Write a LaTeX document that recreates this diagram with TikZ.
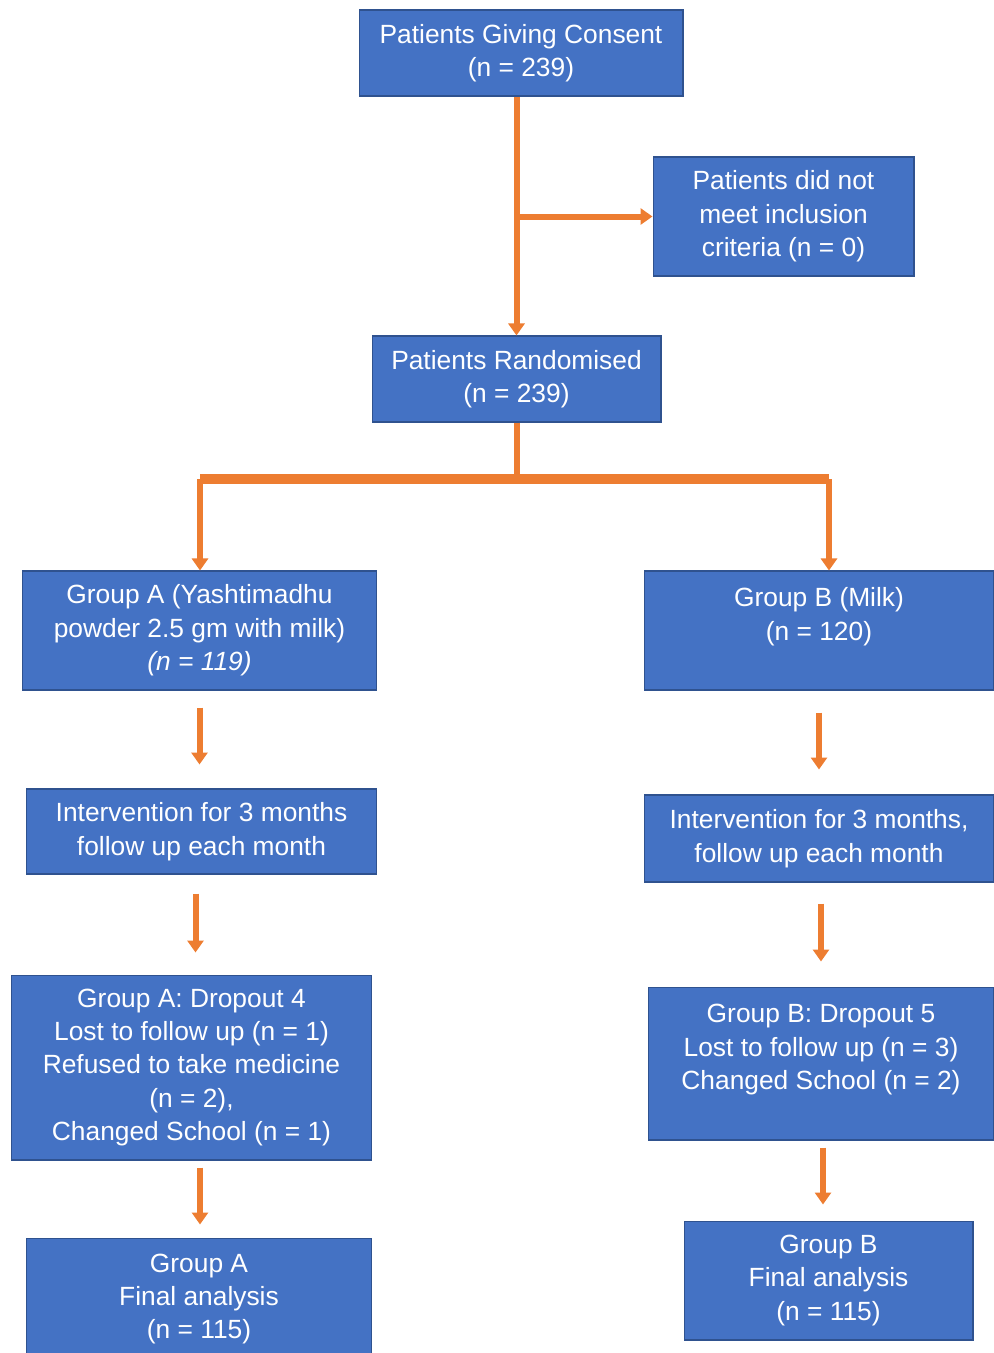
\documentclass[tikz,border=0pt]{standalone}
\usepackage{fontspec}
\setmainfont{Liberation Sans}
\usetikzlibrary{arrows.meta}
\definecolor{boxblue}{HTML}{4472C4}
\definecolor{boxedge}{HTML}{2F528F}
\definecolor{flowor}{HTML}{ED7D31}
\begin{document}
\begin{tikzpicture}[x=0.02cm, y=-0.02cm,
   stagebox/.style={draw=boxedge, line width=0.6pt, fill=boxblue, text=white,
      align=center, inner sep=2pt, font=\fontsize{15}{19}\selectfont},
   flow/.style={draw=flowor, line width=0.12cm},
   flowarr/.style={flow, -{Triangle[width=0.32cm,length=0.24cm]}},
   gap/.style 2 args={flowarr, shorten <=#1, shorten >=#2}]

\useasboundingbox (0,0) rectangle (994,1353);

\node[stagebox, minimum width=6.48cm, minimum height=1.72cm] (consent) at (521,53)
    {Patients Giving Consent\\(n = 239)};
\node[stagebox, minimum width=5.22cm, minimum height=2.38cm] (excl) at (783.5,216.5)
    {Patients did not\\meet inclusion\\criteria (n = 0)};
\node[stagebox, minimum width=5.78cm, minimum height=1.72cm] (rand) at (516.5,379)
    {Patients Randomised\\(n = 239)};
\node[stagebox, minimum width=7.1cm, minimum height=2.38cm] (grpA) at (199.5,630.5)
    {Group A (Yashtimadhu\\powder 2.5 gm with milk)\\\textit{(n = 119)}};
\node[stagebox, minimum width=7.0cm, minimum height=2.38cm] (grpB) at (819,630.5)
    {Group B (Milk)\\(n = 120)\\\mbox{}};
\node[stagebox, minimum width=7.02cm, minimum height=1.7cm] (intA) at (201.5,831.5)
    {Intervention for 3 months\\follow up each month};
\node[stagebox, minimum width=7.0cm, minimum height=1.74cm] (intB) at (819,838.5)
    {Intervention for 3 months,\\follow up each month};
\node[stagebox, minimum width=7.22cm, minimum height=3.7cm] (dropA) at (191.5,1067.5)
    {Group A: Dropout 4\\Lost to follow up (n = 1)\\Refused to take medicine\\(n = 2),\\Changed School (n = 1)};
\node[stagebox, minimum width=6.92cm, minimum height=3.06cm] (dropB) at (821,1063.5)
    {Group B: Dropout 5\\Lost to follow up (n = 3)\\Changed School (n = 2)\\\mbox{}};
\node[stagebox, minimum width=6.92cm, minimum height=2.44cm] (finA) at (199,1299)
    {Group A\\Final analysis\\(n = 115)};
\node[stagebox, minimum width=5.78cm, minimum height=2.38cm] (finB) at (828.5,1280.5)
    {Group B\\Final analysis\\(n = 115)};

\coordinate (split) at (rand.north |- excl.west);
\coordinate (fork) at (516.5,479);
\coordinate (forkA) at (200,479);
\coordinate (forkB) at (829,479);

\draw[flowarr] (rand.north |- consent.south) -- (rand.north);
\draw[flowarr] (split) -- (excl.west);
\draw[flow] (rand.south) -- (fork);
\draw[flow, line width=0.2cm] (forkA) -- (forkB);
\draw[flowarr] (forkA) -- (forkA |- grpA.north);
\draw[flowarr] (forkB) -- (forkB |- grpB.north);

\draw[gap={0.34cm}{0.48cm}] (grpA.south) -- (grpA.south |- intA.north);
\draw[gap={0.44cm}{0.5cm}] (grpB.south) -- (grpB.south |- intB.north);
\draw[gap={0.38cm}{0.44cm}] ([xshift=-0.12cm]intA.south) -- ([xshift=-0.12cm]intA.south |- dropA.north);
\draw[gap={0.42cm}{0.5cm}] ([xshift=0.04cm]intB.south) -- ([xshift=0.04cm]intB.south |- dropB.north);
\draw[gap={0.14cm}{0.26cm}] ([xshift=0.17cm]dropA.south) -- ([xshift=0.17cm]dropA.south |- finA.north);
\draw[gap={0.14cm}{0.32cm}] ([xshift=0.04cm]dropB.south) -- ([xshift=0.04cm]dropB.south |- finB.north);

\end{tikzpicture}
\end{document}
